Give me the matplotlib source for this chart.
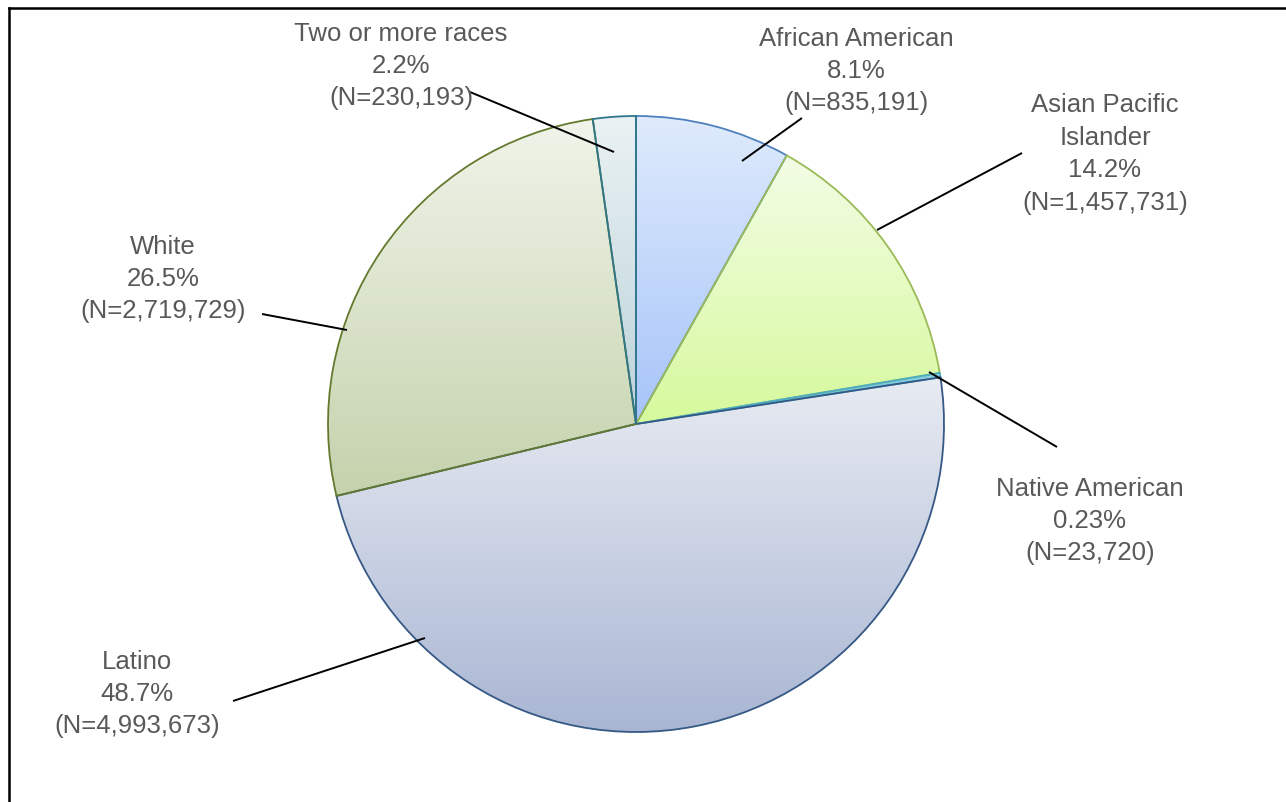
import numpy as np
import matplotlib
matplotlib.use("Agg")
import matplotlib.pyplot as plt
from matplotlib.colors import LinearSegmentedColormap
from matplotlib.lines import Line2D

# data (clockwise from 12 o'clock)
groups = ["African American", "Asian Pacific\nIslander", "Native American",
          "Latino", "White", "Two or more races"]
counts = [835191, 1457731, 23720, 4993673, 2719729, 230193]
pct_text = ["8.1%", "14.2%", "0.23%", "48.7%", "26.5%", "2.2%"]

# styling: (top colour, bottom colour, edge colour) per slice
fills = [("#DFEBFC", "#A6C4F9", "#4F81BD"),
         ("#F3FDE6", "#D6F99C", "#9BBB59"),
         ("#8FD3E6", "#4BACC6", "#4BACC6"),
         ("#E8EBF2", "#A9B6D3", "#355885"),
         ("#F0F4EA", "#C5D2AC", "#637A2E"),
         ("#EAF2F3", "#BBD2DB", "#2E7689")]

# layout in pixels (from top-left)
W, H = 1286, 802
cx, cy, rad = 636, 424, 308
label_pos = [(856, 71), (1105, 154), (1090, 521), (137, 694), (163, 279), (401, 66)]
leader = [((802, 118), (742, 161)),
          ((1022, 153), (877, 230)),
          ((1057, 447), (929, 372)),
          ((233, 701), (425, 638)),
          ((262, 314), (347, 330)),
          ((470, 92), (614, 152))]

plt.rcParams['font.family'] = ['Liberation Sans', 'DejaVu Sans']

fig = plt.figure(figsize=(W / 100, H / 100), dpi=100)
ax = fig.add_axes([0, 0, 1, 1])

wedges, _ = ax.pie(counts, startangle=90, counterclock=False,
                   center=(cx, H - cy), radius=rad,
                   wedgeprops=dict(linewidth=1.3))
ax.set_xlim(0, W)
ax.set_ylim(0, H)
ax.set_aspect('equal', adjustable='box')
ax.axis('off')

grad = np.linspace(0, 1, 256).reshape(-1, 1)
for w, (top, bot, edge) in zip(wedges, fills):
    w.set_facecolor('none')
    w.set_edgecolor(edge)
    w.set_zorder(3)
    bb = w.get_path().get_extents(w.get_patch_transform())
    cmap = LinearSegmentedColormap.from_list('g', [top, bot])
    im = ax.imshow(grad, cmap=cmap, aspect='auto',
                   extent=(bb.x0, bb.x1, bb.y0, bb.y1), origin='upper',
                   zorder=2, interpolation='bilinear')
    im.set_clip_path(w.get_path(), w.get_patch_transform() + ax.transData)

ax.set_xlim(0, W)
ax.set_ylim(0, H)

for name, p, n, (lx, ly), (a, b) in zip(groups, pct_text, counts, label_pos, leader):
    ax.text(lx, H - ly, f"{name}\n{p}\n(N={n:,})", ha='center', va='center',
            fontsize=18.5, color='#595959', linespacing=1.44, zorder=5)
    ax.plot([a[0], b[0]], [H - a[1], H - b[1]], color='black', lw=1.4,
            zorder=4, solid_capstyle='butt')

# chart border (top and left visible)
fig.add_artist(Line2D([8.5 / W, 1.0], [1 - 7.5 / H, 1 - 7.5 / H],
                      transform=fig.transFigure, color='black', lw=1.8))
fig.add_artist(Line2D([8.5 / W, 8.5 / W], [0.0, 1 - 7.5 / H],
                      transform=fig.transFigure, color='black', lw=1.8))

fig.savefig("out.png", dpi=100, facecolor='white')
